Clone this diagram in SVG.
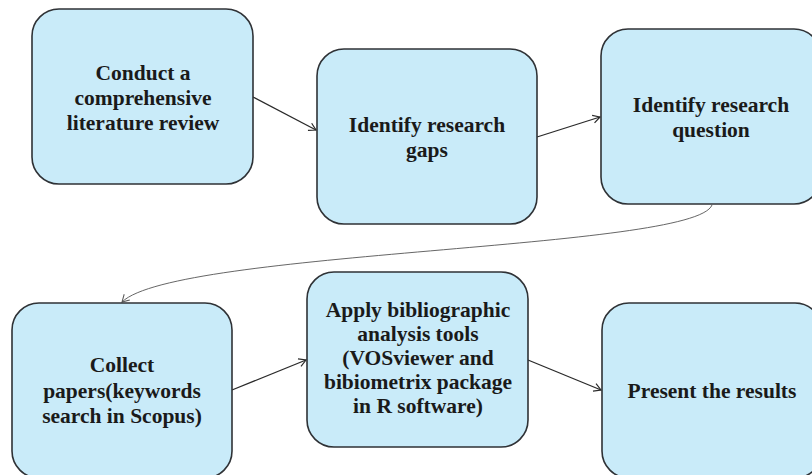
<svg xmlns="http://www.w3.org/2000/svg" width="812" height="475" viewBox="0 0 812 475">
<style>
.box{fill:#c9ebf9;stroke:#2f3236;stroke-width:1.6}
.lbl{font-family:"Liberation Serif","Times New Roman",serif;font-weight:bold;font-size:21.5px;fill:#1a1a1a;text-anchor:middle}
.conn{fill:none;stroke:#2a2a2a;stroke-width:1.3}
.curve{fill:none;stroke:#555;stroke-width:0.9}
</style>
<defs>
<marker id="arr" markerWidth="10" markerHeight="10" refX="8" refY="5" orient="auto" markerUnits="userSpaceOnUse">
<path d="M1,1 L8,5 L1,9" fill="none" stroke="#2a2a2a" stroke-width="1.2"/>
</marker>
<marker id="arr2" markerWidth="10" markerHeight="10" refX="8" refY="5" orient="auto" markerUnits="userSpaceOnUse">
<path d="M1,1 L8,5 L1,9" fill="none" stroke="#555" stroke-width="1"/>
</marker>
</defs>
<rect width="812" height="475" fill="#ffffff"/>
<g id="connectors">
<line class="conn" x1="253" y1="97" x2="316" y2="130" marker-end="url(#arr)"/>
<line class="conn" x1="537" y1="137" x2="600" y2="117" marker-end="url(#arr)"/>
<path class="curve" d="M712,205 C695,250 175,250 122,302" marker-end="url(#arr2)"/>
<line class="conn" x1="232" y1="390" x2="306" y2="360" marker-end="url(#arr)"/>
<line class="conn" x1="528" y1="360" x2="601" y2="390" marker-end="url(#arr)"/>
</g>
<g id="n1">
<rect class="box" x="32" y="9" width="221" height="175" rx="27"/>
<text class="lbl" x="143" y="80">Conduct a</text>
<text class="lbl" x="143" y="105">comprehensive</text>
<text class="lbl" x="143" y="130">literature review</text>
</g>
<g id="n2">
<rect class="box" x="317" y="49" width="220" height="175" rx="27"/>
<text class="lbl" x="427" y="132">Identify research</text>
<text class="lbl" x="427" y="157">gaps</text>
</g>
<g id="n3">
<rect class="box" x="601" y="29" width="220" height="175" rx="27"/>
<text class="lbl" x="711" y="112">Identify research</text>
<text class="lbl" x="711" y="137">question</text>
</g>
<g id="n4">
<rect class="box" x="12" y="303" width="220" height="175" rx="27"/>
<text class="lbl" x="122" y="372">Collect</text>
<text class="lbl" x="122" y="398">papers(keywords</text>
<text class="lbl" x="122" y="423">search in Scopus)</text>
</g>
<g id="n5">
<rect class="box" x="307" y="272" width="221" height="175" rx="27"/>
<text class="lbl" x="418" y="317">Apply bibliographic</text>
<text class="lbl" x="418" y="341">analysis tools</text>
<text class="lbl" x="418" y="365">(VOSviewer and</text>
<text class="lbl" x="418" y="389">bibiometrix package</text>
<text class="lbl" x="418" y="413">in R software)</text>
</g>
<g id="n6">
<rect class="box" x="602" y="303" width="220" height="175" rx="27"/>
<text class="lbl" x="712" y="398">Present the results</text>
</g>
</svg>
